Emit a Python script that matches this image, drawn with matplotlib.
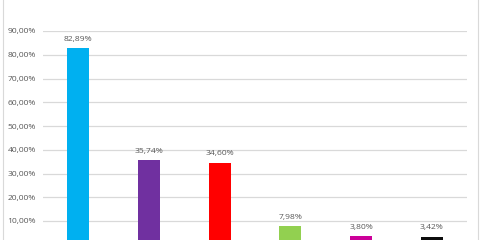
import matplotlib.pyplot as plt
from matplotlib.lines import Line2D

# values (percent)
categories = ["A", "B", "C", "D", "E", "F"]
values = [82.89, 35.74, 34.60, 7.98, 3.80, 3.42]
colors = ["#00B0F0", "#7030A0", "#FF0000", "#92D050", "#CC0099", "#0D0D0D"]
yticks = [10, 20, 30, 40, 50, 60, 70, 80, 90]

plt.rcParams['font.family'] = ['Open Sans', 'DejaVu Sans']

fig = plt.figure(figsize=(4.8, 2.4), dpi=100)
# axes bottom sits below the visible area (chart is cropped at 0%)
ax = fig.add_axes([43 / 480, -4.75 / 240, 424 / 480, 213.75 / 240])

x = range(len(categories))
ax.bar(x, values, width=0.31, color=colors, zorder=3)

for xi, v in zip(x, values):
    ax.text(xi, v + 2.2, f"{v:.2f}".replace(".", ",") + "%", ha="center", va="bottom",
            fontsize=6.1, color="#595959")

ax.set_xlim(-0.5, len(categories) - 0.5)
ax.set_ylim(0, 90)
ax.set_yticks(yticks)
ax.set_yticklabels([f"{t:.2f}".replace(".", ",") + "%" for t in yticks],
                   fontsize=6.1, color="#595959")
ax.set_xticks([])
ax.tick_params(axis="y", length=0, pad=5)
ax.grid(axis="y", color="#D9D9D9", linewidth=0.9, zorder=0)
for s in ax.spines.values():
    s.set_visible(False)

# chart area border (left and right edges visible)
fig.add_artist(Line2D([2.5 / 480, 2.5 / 480], [0, 1], color="#D9D9D9", linewidth=0.8))
fig.add_artist(Line2D([477.5 / 480, 477.5 / 480], [0, 1], color="#D9D9D9", linewidth=0.8))

plt.savefig("out.png", dpi=100)
